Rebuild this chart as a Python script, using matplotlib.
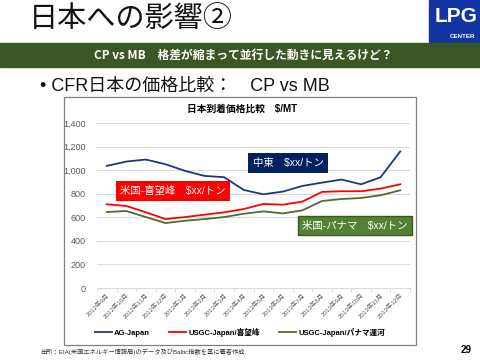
import matplotlib
matplotlib.use("Agg")
import matplotlib.pyplot as plt
from matplotlib.patches import Rectangle
from matplotlib.lines import Line2D
from matplotlib.ticker import FuncFormatter

plt.rcParams["font.family"] = ["Liberation Sans", "Noto Sans CJK JP", "DejaVu Sans"]

months = ["2012年9月", "2012年10月", "2012年11月", "2012年12月", "2013年1月",
          "2013年2月", "2013年3月", "2013年4月", "2013年5月", "2013年6月",
          "2013年7月", "2013年8月", "2013年9月", "2013年10月", "2013年11月",
          "2013年12月"]
ag_japan = [1036, 1073, 1090, 1050, 994, 951, 940, 832, 795, 818, 866, 894,
            920, 880, 940, 1159]
usgc_cape = [710, 696, 642, 585, 602, 622, 642, 670, 713, 707, 733, 815,
             821, 821, 843, 880]
usgc_panama = [645, 653, 602, 551, 571, 585, 602, 630, 650, 633, 659, 738,
               755, 764, 787, 829]
series_names = ["AG-Japan", "USGC-Japan/喜望峰", "USGC-Japan/パナマ運河"]
series_colors = ["#1F3872", "#FF0000", "#4E6B30"]

W, H = 480, 360
fig = plt.figure(figsize=(W / 100, H / 100), dpi=100)


def fx(px):
    return px / W


def fy(py):
    return 1 - py / H


# slide header
fig.text(fx(29), fy(19), "日本への影響②", fontsize=21, va="center", ha="left",
         color="#111111", family=["Noto Sans CJK JP", "DejaVu Sans"])
fig.patches.append(Rectangle((fx(429), fy(42)), fx(51), 42 / H,
                             transform=fig.transFigure, color="#1434A4"))
fig.text(fx(456), fy(16), "LPG", fontsize=15, fontweight="bold", color="white",
         ha="center", va="center",
         family=["Liberation Sans Narrow", "Liberation Sans"])
fig.text(fx(462), fy(37), "CENTER", fontsize=4.5, fontweight="bold",
         color="white", ha="center", va="center",
         family=["Liberation Sans Narrow", "Liberation Sans"])
fig.patches.append(Rectangle((0, fy(67)), 1, 24 / H,
                             transform=fig.transFigure, color="#3B5726"))
fig.text(fx(243), fy(55), "CP vs MB　格差が縮まって並行した動きに見えるけど？",
         fontsize=8.5, fontweight="bold", color="white", ha="center",
         va="center", family=["Noto Sans CJK JP", "DejaVu Sans"])
fig.text(fx(40), fy(86), "• CFR日本の価格比較：　CP vs MB", fontsize=13,
         ha="left", va="center", color="#111111")

# chart frame
fig.patches.append(Rectangle((fx(64), fy(345)), fx(352), 248 / H,
                             transform=fig.transFigure, fill=False,
                             edgecolor="#808080", lw=0.9))
fig.text(fx(242), fy(109), "日本到着価格比較　$/MT", fontsize=7,
         fontweight="bold", ha="center", va="center")

ax = fig.add_axes([fx(97), fy(288), fx(313), 165 / H])
x = list(range(len(months)))
for vals, name, col in zip([ag_japan, usgc_cape, usgc_panama], series_names,
                           series_colors):
    ax.plot(x, vals, color=col, lw=1.3, label=name)

ax.set_xlim(-0.5, len(months) - 0.5)
ax.set_ylim(0, 1400)
ax.set_yticks(range(0, 1401, 200))
ax.yaxis.set_major_formatter(FuncFormatter(lambda v, p: f"{int(v):,}"))
ax.grid(axis="y", color="#D9D9D9", lw=0.7)
ax.set_axisbelow(True)
for s in ["top", "right", "left"]:
    ax.spines[s].set_visible(False)
ax.spines["bottom"].set_color("#D9D9D9")
ax.tick_params(axis="y", length=0, labelsize=6.5, labelcolor="#595959", pad=8)
ax.set_xticks(x)
ax.set_xticklabels(months, rotation=45, ha="right", rotation_mode="anchor",
                   fontsize=4.5, color="#595959")
ax.tick_params(axis="x", length=0, pad=3)
ax.set_xticks([i + 0.5 for i in range(-1, len(months))], minor=True)
ax.tick_params(axis="x", which="minor", length=3, color="#D9D9D9")

# label boxes
box_style = dict(boxstyle="square,pad=0.45", ec="none")
fig.text(fx(288), fy(163), "中東　$xx/トン", fontsize=7.5, color="white",
         ha="center", va="center", bbox=dict(fc="#002060", **box_style))
fig.text(fx(173), fy(191), "米国-喜望峰　$xx/トン", fontsize=7.5, color="white",
         ha="center", va="center", bbox=dict(fc="#FF0000", **box_style))
fig.text(fx(355), fy(225.5), "米国-パナマ　$xx/トン", fontsize=7.5,
         color="white", ha="center", va="center",
         bbox=dict(fc="#548235", ec="#3B5726", boxstyle="square,pad=0.45"))

handles = [Line2D([], [], color=c, lw=1.3) for c in series_colors]
fig.legend(handles, series_names, loc="center", bbox_to_anchor=(fx(240), fy(332)),
           ncol=3, frameon=False, handlelength=2.2,
           handletextpad=0.3, columnspacing=2.5,
           prop={"weight": "bold", "size": 5.5})

fig.text(fx(40), fy(352), "出所：EIA(米国エネルギー情報局)のデータ及びBaltic指数を基に著者作成",
         fontsize=4.5, color="#333333", ha="left", va="center")
fig.text(fx(472), fy(350), "29", fontsize=7, fontweight="bold", ha="right",
         va="center")

fig.savefig("out.png", dpi=100)
